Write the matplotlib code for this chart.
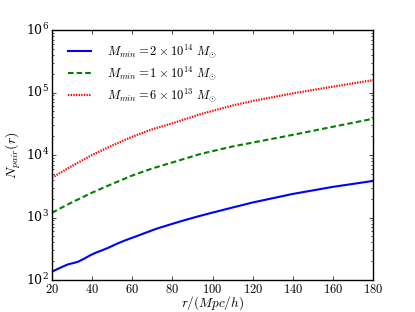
import numpy as np
import matplotlib.pyplot as plt
from matplotlib.ticker import FuncFormatter

plt.style.use('classic')
plt.rcParams['mathtext.fontset'] = 'cm'
plt.rcParams['font.family'] = 'serif'
plt.rcParams['font.serif'] = ['DejaVu Serif']

r_blue = [20, 22, 25, 28, 31, 33, 36, 39, 42, 45, 48, 52, 56, 59, 62, 66, 72, 79, 86, 92,
          99, 110, 120, 140, 160, 180]
n_blue = [136, 146, 162, 178, 188, 196, 219, 248, 275, 299, 327, 376, 425, 462, 500, 560, 660,
          775, 905, 1025, 1175, 1445, 1738, 2382, 3090, 3846]

r_green = [20, 25, 30, 40, 50, 60, 70, 80, 94, 110, 120, 140, 160, 180]
n_green = [1190, 1450, 1750, 2500, 3450, 4700, 6100, 7600, 10400, 13700, 15800, 21000, 28300, 38000]

r_red = [20, 25, 30, 40, 50, 60, 70, 80, 94, 110, 120, 140, 160, 180]
n_red = [4330, 5400, 6700, 10000, 14200, 19600, 25800, 32100, 45000, 62000, 73000, 97000, 124000, 158000]

labels = [r'$M_{min}=2\times10^{14}\ M_{\odot}$',
          r'$M_{min}=1\times10^{14}\ M_{\odot}$',
          r'$M_{min}=6\times10^{13}\ M_{\odot}$']

fig = plt.figure(figsize=(4.15, 3.12), dpi=100, facecolor='white')
ax = fig.add_axes([52/415, 32/312, 321/415, 250/312])

ax.plot(r_blue, n_blue, color='blue', lw=1.5, ls='-', label=labels[0])
ax.plot(r_green, n_green, color='green', lw=1.5, ls=(0, (4, 2.2)), label=labels[1])
ax.plot(r_red, n_red, color='red', lw=1.6, ls=(0, (1, 0.9)), label=labels[2])

ax.set_yscale('log')
ax.set_xlim(20, 180)
ax.set_ylim(1e2, 1e6)
ax.xaxis.set_major_formatter(FuncFormatter(lambda v, p: r'$%d$' % v))
ax.tick_params(labelsize=9, pad=2)
ax.tick_params(which='major', length=3)
ax.tick_params(which='minor', length=1.5)
ax.set_xlabel(r'$r/(Mpc/h)$', fontsize=9.5, labelpad=-1)
ax.set_ylabel(r'$N_{pair}(r)$', fontsize=10, labelpad=2)
ax.legend(loc='upper left', frameon=False, fontsize=9, handlelength=2.4,
          handletextpad=1.0, labelspacing=0.35, borderaxespad=0.6)

fig.savefig('out.png', dpi=100, facecolor='white')
